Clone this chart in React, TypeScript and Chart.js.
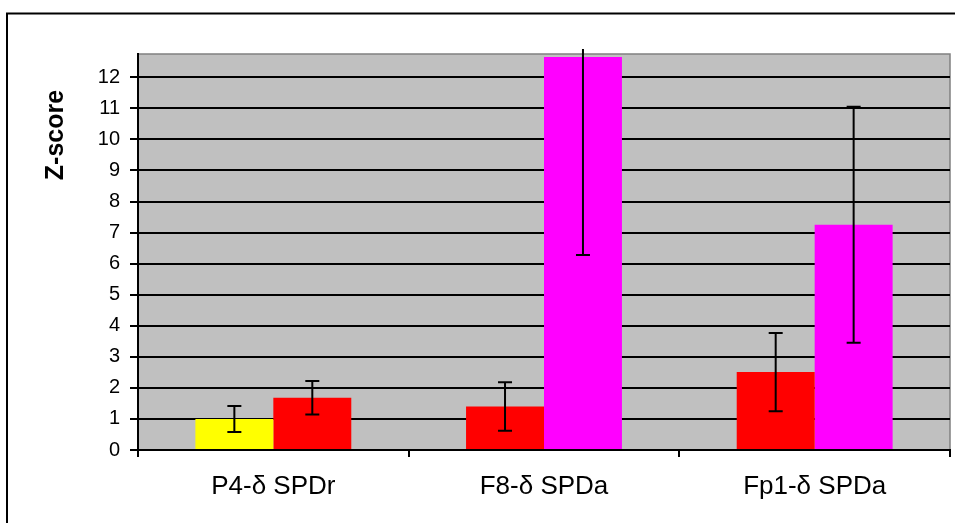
import React, { useEffect, useRef } from "react";
import { Chart, registerables } from "chart.js";

Chart.register(...registerables);

const categories = ["P4-δ SPDr", "F8-δ SPDa", "Fp1-δ SPDa"];
const seriesAValues = [1.0, 1.4, 2.51];
const seriesAErrors = [0.42, 0.78, 1.26];
const seriesAColors = ["#FFFF00", "#FF0000", "#FF0000"];
const seriesBValues = [1.68, 12.65, 7.25];
const seriesBErrors = [0.54, 6.37, 3.8];
const seriesBColors = ["#FF0000", "#FF00FF", "#FF00FF"];
const yTicks = [0, 1, 2, 3, 4, 5, 6, 7, 8, 9, 10, 11, 12];
const yMax = 12.75;
const yTitle = "Z-score";

const FONT = "'Liberation Sans', Arial, sans-serif";

const bgPlugin = {
  id: "bgPlugin",
  beforeDraw(chart: any) {
    const { ctx, chartArea } = chart;
    ctx.save();
    ctx.fillStyle = "#FFFFFF";
    ctx.fillRect(0, 0, chart.width, chart.height);
    ctx.strokeStyle = "#000000";
    ctx.lineWidth = 2;
    ctx.strokeRect(7, 13.5, chart.width + 20, chart.height + 20);
    ctx.fillStyle = "#C0C0C0";
    ctx.fillRect(chartArea.left, chartArea.top, chartArea.right - chartArea.left, chartArea.bottom - chartArea.top);
    ctx.strokeStyle = "#808080";
    ctx.lineWidth = 1.5;
    ctx.beginPath();
    ctx.moveTo(chartArea.left, chartArea.top);
    ctx.lineTo(chartArea.right, chartArea.top);
    ctx.lineTo(chartArea.right, chartArea.bottom);
    ctx.stroke();
    ctx.restore();
  },
  afterDraw(chart: any) {
    const { ctx } = chart;
    ctx.save();
    ctx.translate(63, 135);
    ctx.rotate(-Math.PI / 2);
    ctx.font = `bold 25px ${FONT}`;
    ctx.fillStyle = "#000000";
    ctx.textAlign = "center";
    ctx.textBaseline = "alphabetic";
    ctx.fillText(yTitle, 0, 0);
    ctx.restore();
  },
};

const errorPlugin = {
  id: "errorPlugin",
  afterDatasetsDraw(chart: any) {
    const { ctx, chartArea } = chart;
    const yScale = chart.scales.y;
    const errs = [seriesAErrors, seriesBErrors];
    ctx.save();
    ctx.beginPath();
    ctx.rect(chartArea.left, chartArea.top - 5, chartArea.right - chartArea.left, chartArea.bottom - chartArea.top + 5);
    ctx.clip();
    ctx.strokeStyle = "#000000";
    ctx.lineWidth = 2;
    chart.data.datasets.forEach((ds: any, di: number) => {
      const meta = chart.getDatasetMeta(di);
      meta.data.forEach((el: any, i: number) => {
        const v = ds.data[i];
        const e = errs[di][i];
        const x = el.x;
        const yt = yScale.getPixelForValue(v + e);
        const yb = yScale.getPixelForValue(v - e);
        ctx.beginPath();
        ctx.moveTo(x, yt);
        ctx.lineTo(x, yb);
        ctx.moveTo(x - 7, yt);
        ctx.lineTo(x + 7, yt);
        ctx.moveTo(x - 7, yb);
        ctx.lineTo(x + 7, yb);
        ctx.stroke();
      });
    });
    ctx.restore();
  },
};

export default function App() {
  const ref = useRef<HTMLCanvasElement | null>(null);
  useEffect(() => {
    if (!ref.current) return;
    const chart = new Chart(ref.current, {
      type: "bar",
      data: {
        labels: categories,
        datasets: [
          {
            data: seriesAValues,
            backgroundColor: seriesAColors,
            borderWidth: 0,
            categoryPercentage: 0.576,
            barPercentage: 1,
          },
          {
            data: seriesBValues,
            backgroundColor: seriesBColors,
            borderWidth: 0,
            categoryPercentage: 0.576,
            barPercentage: 1,
          },
        ],
      },
      options: {
        responsive: false,
        animation: false,
        layout: { padding: { left: 0, top: 54, right: 5, bottom: 0 } },
        plugins: { legend: { display: false }, tooltip: { enabled: false }, title: { display: false } },
        scales: {
          x: {
            offset: true,
            grid: {
              display: true,
              drawOnChartArea: false,
              drawTicks: true,
              tickLength: 7,
              color: "#000000",
              lineWidth: 2,
              offset: true,
            },
            border: { display: true, color: "#000000", width: 2 },
            ticks: {
              color: "#000000",
              font: { family: FONT, size: 26 },
              padding: 14,
              maxRotation: 0,
            },
            afterFit(scale: any) {
              scale.height = 73;
            },
          },
          y: {
            min: 0,
            max: yMax,
            grid: {
              color: "#000000",
              lineWidth: 2,
              tickLength: 8,
              drawTicks: true,
            },
            border: { display: true, color: "#000000", width: 2 },
            ticks: {
              stepSize: 1,
              includeBounds: false,
              color: "#000000",
              font: { family: FONT, size: 20 },
              padding: 10,
            },
            afterBuildTicks(scale: any) {
              scale.ticks = yTicks.map((v) => ({ value: v }));
            },
            afterFit(scale: any) {
              scale.width = 138;
            },
          },
        },
      },
      plugins: [bgPlugin, errorPlugin],
    } as any);
    return () => chart.destroy();
  }, []);
  return (
    <div style={{ position: "fixed", left: 0, top: 0, width: 955, height: 523 }}>
      <canvas ref={ref} width={955} height={523} />
    </div>
  );
}
